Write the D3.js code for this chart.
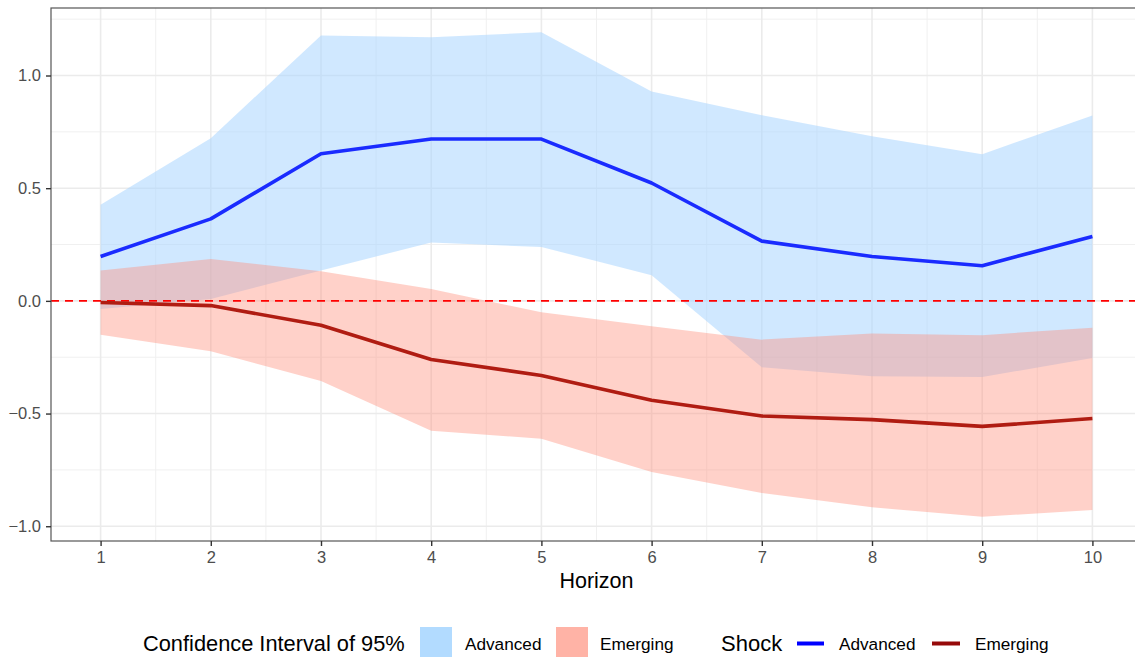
<!DOCTYPE html>
<html>
<head>
<meta charset="utf-8">
<script src="https://cdn.jsdelivr.net/npm/d3@7"></script>
<style>
  html, body { margin: 0; padding: 0; background: #fff; }
  svg { display: block; font-family: "Liberation Sans", Arial, sans-serif; }
</style>
</head>
<body>
<svg id="chart" width="1135" height="657"></svg>
<script>
// Impulse responses by horizon, with 95% confidence bands
const horizons = [1, 2, 3, 4, 5, 6, 7, 8, 9, 10];

const advancedIrf   = [0.197, 0.364, 0.653, 0.718, 0.718, 0.523, 0.265, 0.197, 0.156, 0.286];
const advancedUpper = [0.427, 0.722, 1.177, 1.170, 1.192, 0.929, 0.824, 0.730, 0.651, 0.823];
const advancedLower = [-0.036, 0.008, 0.135, 0.259, 0.239, 0.114, -0.295, -0.335, -0.338, -0.253];

const emergingIrf   = [-0.007, -0.021, -0.108, -0.260, -0.331, -0.441, -0.511, -0.527, -0.557, -0.522];
const emergingUpper = [0.135, 0.186, 0.131, 0.053, -0.051, -0.113, -0.172, -0.145, -0.152, -0.119];
const emergingLower = [-0.150, -0.223, -0.356, -0.576, -0.612, -0.759, -0.852, -0.916, -0.958, -0.928];

const xTicks = [1, 2, 3, 4, 5, 6, 7, 8, 9, 10];
const yTicks = [-1.0, -0.5, 0.0, 0.5, 1.0];

const svg = d3.select("#chart");
const panel = { left: 51, top: 8, right: 1142, bottom: 541 };

// ggplot-style 5% expansion of the data range
const allVals = [].concat(advancedUpper, advancedLower, emergingUpper, emergingLower, advancedIrf, emergingIrf);
const yMin = d3.min(allVals), yMax = d3.max(allVals);
const yPad = (yMax - yMin) * 0.05;
const xPad = (d3.max(horizons) - d3.min(horizons)) * 0.05;

const x = d3.scaleLinear()
  .domain([d3.min(horizons) - xPad, d3.max(horizons) + xPad])
  .range([panel.left, panel.right]);
const y = d3.scaleLinear()
  .domain([yMin - yPad, yMax + yPad])
  .range([panel.bottom, panel.top]);

svg.append("defs").append("clipPath").attr("id", "panel-clip")
  .append("rect")
  .attr("x", panel.left).attr("y", panel.top)
  .attr("width", panel.right - panel.left).attr("height", panel.bottom - panel.top);

const plot = svg.append("g").attr("clip-path", "url(#panel-clip)");

// grid: minor then major
const xMinor = d3.range(1.5, 10.5, 1);
const yMinor = [-0.75, -0.25, 0.25, 0.75, 1.25];

plot.selectAll(".xminor").data(xMinor).join("line")
  .attr("x1", d => x(d)).attr("x2", d => x(d))
  .attr("y1", panel.top).attr("y2", panel.bottom)
  .attr("stroke", "#f0f0f0").attr("stroke-width", 1);
plot.selectAll(".yminor").data(yMinor).join("line")
  .attr("y1", d => y(d)).attr("y2", d => y(d))
  .attr("x1", panel.left).attr("x2", panel.right)
  .attr("stroke", "#f0f0f0").attr("stroke-width", 1);
plot.selectAll(".xmajor").data(xTicks).join("line")
  .attr("x1", d => x(d)).attr("x2", d => x(d))
  .attr("y1", panel.top).attr("y2", panel.bottom)
  .attr("stroke", "#ebebeb").attr("stroke-width", 1.6);
plot.selectAll(".ymajor").data(yTicks).join("line")
  .attr("y1", d => y(d)).attr("y2", d => y(d))
  .attr("x1", panel.left).attr("x2", panel.right)
  .attr("stroke", "#ebebeb").attr("stroke-width", 1.6);

// confidence bands
const band = (upper, lower) => d3.area()
  .x((d, i) => x(horizons[i]))
  .y0((d, i) => y(lower[i]))
  .y1((d, i) => y(upper[i]));

plot.append("path")
  .attr("d", band(advancedUpper, advancedLower)(horizons))
  .attr("fill", "rgb(170,213,255)").attr("fill-opacity", 0.55);
plot.append("path")
  .attr("d", band(emergingUpper, emergingLower)(horizons))
  .attr("fill", "rgb(255,140,120)").attr("fill-opacity", 0.4);

// zero reference
plot.append("line")
  .attr("x1", panel.left).attr("x2", panel.right)
  .attr("y1", y(0)).attr("y2", y(0))
  .attr("stroke", "#ff0000").attr("stroke-width", 1.8)
  .attr("stroke-dasharray", "8,6");

// point estimates
const line = vals => d3.line()
  .x((d, i) => x(horizons[i]))
  .y((d, i) => y(vals[i]));

plot.append("path")
  .attr("d", line(advancedIrf)(horizons))
  .attr("fill", "none").attr("stroke", "#1a2bff").attr("stroke-width", 3.6)
  .attr("stroke-linejoin", "round");
plot.append("path")
  .attr("d", line(emergingIrf)(horizons))
  .attr("fill", "none").attr("stroke", "#b01c12").attr("stroke-width", 3.6)
  .attr("stroke-linejoin", "round");

// panel border
svg.append("rect")
  .attr("x", panel.left).attr("y", panel.top)
  .attr("width", panel.right - panel.left).attr("height", panel.bottom - panel.top)
  .attr("fill", "none").attr("stroke", "#555").attr("stroke-width", 1.2);

// axes
const xAxis = svg.append("g")
  .attr("transform", `translate(0,${panel.bottom})`)
  .call(d3.axisBottom(x).tickValues(xTicks).tickFormat(d3.format("d")).tickSize(5).tickPadding(5));
const yAxis = svg.append("g")
  .attr("transform", `translate(${panel.left},0)`)
  .call(d3.axisLeft(y).tickValues(yTicks).tickFormat(d3.format(".1f")).tickSize(5).tickPadding(5));

[xAxis, yAxis].forEach(g => {
  g.select(".domain").remove();
  g.selectAll(".tick line").attr("stroke", "#333").attr("stroke-width", 1.4);
  g.selectAll(".tick text")
    .attr("fill", "#4d4d4d")
    .style("font-family", "'Liberation Sans', Arial, sans-serif")
    .style("font-size", "16.5px");
});

svg.append("text")
  .attr("x", (panel.left + panel.right) / 2).attr("y", 588)
  .attr("text-anchor", "middle")
  .style("font-size", "21.5px").attr("fill", "#000")
  .text("Horizon");

// legend
const legend = svg.append("g");
legend.append("text").attr("x", 143).attr("y", 651)
  .style("font-size", "21.8px").text("Confidence Interval of 95%");
legend.append("rect").attr("x", 420).attr("y", 627).attr("width", 32).attr("height", 31)
  .attr("fill", "#b2dbff");
legend.append("text").attr("x", 465).attr("y", 649.5)
  .style("font-size", "17.2px").text("Advanced");
legend.append("rect").attr("x", 556).attr("y", 627).attr("width", 32).attr("height", 31)
  .attr("fill", "#ffb3a6");
legend.append("text").attr("x", 600).attr("y", 649.5)
  .style("font-size", "17.2px").text("Emerging");

legend.append("text").attr("x", 721).attr("y", 651)
  .style("font-size", "22px").text("Shock");
legend.append("line").attr("x1", 797).attr("x2", 824).attr("y1", 643.5).attr("y2", 643.5)
  .attr("stroke", "#0000ff").attr("stroke-width", 4);
legend.append("text").attr("x", 839).attr("y", 649.5)
  .style("font-size", "17.2px").text("Advanced");
legend.append("line").attr("x1", 932).attr("x2", 960).attr("y1", 643.5).attr("y2", 643.5)
  .attr("stroke", "#960a0a").attr("stroke-width", 4);
legend.append("text").attr("x", 975).attr("y", 649.5)
  .style("font-size", "17.2px").text("Emerging");
</script>
</body>
</html>
